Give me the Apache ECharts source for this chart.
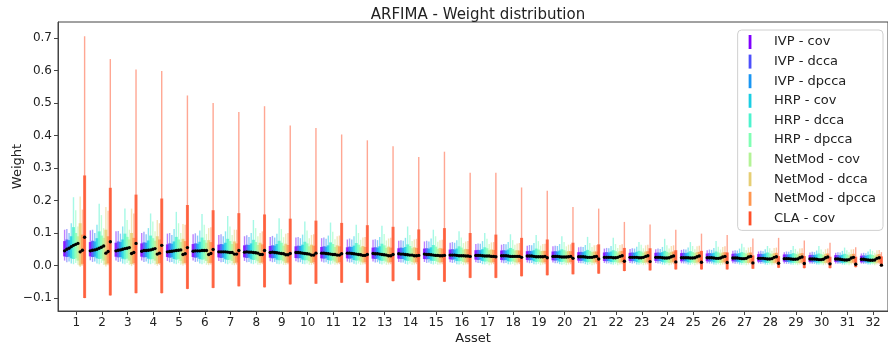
<!DOCTYPE html>
<html>
<head>
<meta charset="utf-8">
<script src="https://cdn.jsdelivr.net/npm/echarts@6/dist/echarts.min.js"></script>
<style>html,body{margin:0;padding:0;background:#fff}#c{width:888px;height:347px}</style>
</head>
<body>
<div id="c"></div>
<script>
// ---------------- DATA ----------------
const assets = [1,2,3,4,5,6,7,8,9,10,11,12,13,14,15,16,17,18,19,20,21,22,23,24,25,26,27,28,29,30,31,32];
const methods = ['IVP - cov','IVP - dcca','IVP - dpcca','HRP - cov','HRP - dcca','HRP - dpcca','NetMod - cov','NetMod - dcca','NetMod - dpcca','CLA - cov'];
const yTicks = [-0.1,0.0,0.1,0.2,0.3,0.4,0.5,0.6,0.7];

// IVP - cov
const ivpCovLo  = [0.015,0.016,0.015,0.015,0.014,0.015,0.014,0.014,0.013,0.013,0.012,0.012,0.012,0.011,0.011,0.010,0.010,0.009,0.009,0.009,0.008,0.008,0.008,0.008,0.007,0.007,0.007,0.007,0.006,0.006,0.006,0.006];
const ivpCovQ1  = [0.028,0.028,0.027,0.027,0.026,0.026,0.025,0.025,0.024,0.023,0.022,0.022,0.021,0.021,0.020,0.019,0.018,0.017,0.017,0.016,0.015,0.014,0.014,0.014,0.013,0.013,0.013,0.012,0.012,0.011,0.011,0.010];
const ivpCovMed = [0.045,0.045,0.045,0.044,0.042,0.044,0.042,0.041,0.040,0.040,0.038,0.038,0.037,0.036,0.035,0.032,0.031,0.030,0.029,0.028,0.027,0.025,0.025,0.025,0.024,0.024,0.023,0.022,0.021,0.020,0.020,0.019];
const ivpCovQ3  = [0.075,0.072,0.070,0.068,0.065,0.066,0.064,0.062,0.060,0.059,0.057,0.056,0.055,0.053,0.052,0.049,0.047,0.046,0.044,0.043,0.041,0.040,0.039,0.039,0.038,0.037,0.036,0.035,0.034,0.032,0.032,0.030];
const ivpCovHi  = [0.110,0.108,0.105,0.100,0.098,0.096,0.094,0.090,0.088,0.086,0.084,0.080,0.079,0.076,0.074,0.070,0.066,0.064,0.061,0.059,0.056,0.052,0.051,0.050,0.048,0.047,0.045,0.043,0.041,0.040,0.039,0.037];
// IVP - dcca
const ivpDccaLo  = [0.010,0.011,0.011,0.011,0.010,0.011,0.010,0.010,0.010,0.010,0.009,0.009,0.009,0.009,0.008,0.008,0.008,0.007,0.007,0.007,0.007,0.006,0.006,0.006,0.006,0.006,0.005,0.005,0.005,0.005,0.005,0.005];
const ivpDccaQ1  = [0.026,0.026,0.025,0.025,0.024,0.024,0.023,0.023,0.022,0.022,0.021,0.021,0.020,0.020,0.019,0.018,0.017,0.016,0.016,0.015,0.014,0.013,0.013,0.013,0.013,0.012,0.012,0.011,0.011,0.010,0.010,0.010];
const ivpDccaMed = [0.050,0.047,0.047,0.046,0.043,0.045,0.042,0.042,0.041,0.040,0.038,0.038,0.036,0.035,0.034,0.032,0.031,0.030,0.029,0.028,0.027,0.025,0.025,0.025,0.024,0.024,0.023,0.022,0.021,0.020,0.020,0.019];
const ivpDccaQ3  = [0.080,0.076,0.074,0.071,0.068,0.068,0.066,0.064,0.062,0.061,0.059,0.058,0.056,0.055,0.053,0.050,0.048,0.047,0.045,0.044,0.042,0.041,0.040,0.040,0.039,0.038,0.037,0.036,0.034,0.033,0.032,0.031];
const ivpDccaHi  = [0.112,0.110,0.106,0.104,0.100,0.099,0.096,0.093,0.091,0.088,0.086,0.083,0.081,0.078,0.076,0.072,0.068,0.066,0.063,0.061,0.058,0.054,0.053,0.052,0.050,0.049,0.047,0.045,0.043,0.042,0.041,0.039];
// IVP - dpcca
const ivpDpccaLo  = [0.012,0.012,0.012,0.012,0.011,0.012,0.011,0.011,0.011,0.010,0.010,0.010,0.010,0.009,0.009,0.009,0.008,0.008,0.008,0.007,0.007,0.007,0.007,0.006,0.006,0.006,0.006,0.006,0.005,0.005,0.005,0.005];
const ivpDpccaQ1  = [0.027,0.027,0.026,0.026,0.025,0.025,0.024,0.024,0.023,0.023,0.022,0.022,0.021,0.020,0.020,0.019,0.018,0.017,0.017,0.016,0.015,0.014,0.014,0.014,0.013,0.013,0.012,0.012,0.011,0.011,0.010,0.010];
const ivpDpccaMed = [0.053,0.048,0.048,0.046,0.044,0.045,0.042,0.041,0.040,0.039,0.037,0.037,0.036,0.035,0.034,0.032,0.031,0.030,0.029,0.028,0.027,0.025,0.025,0.025,0.024,0.024,0.023,0.022,0.021,0.020,0.019,0.018];
const ivpDpccaQ3  = [0.078,0.074,0.072,0.070,0.067,0.067,0.065,0.063,0.061,0.060,0.058,0.057,0.055,0.054,0.052,0.049,0.047,0.046,0.044,0.043,0.041,0.040,0.039,0.039,0.038,0.037,0.036,0.035,0.034,0.032,0.031,0.030];
const ivpDpccaHi  = [0.100,0.100,0.098,0.096,0.094,0.092,0.090,0.088,0.086,0.084,0.082,0.080,0.078,0.076,0.074,0.070,0.067,0.065,0.062,0.060,0.057,0.053,0.052,0.051,0.049,0.048,0.046,0.044,0.042,0.041,0.040,0.038];
// HRP - cov
const hrpCovLo  = [0.006,0.006,0.006,0.006,0.006,0.006,0.006,0.006,0.005,0.005,0.005,0.005,0.005,0.005,0.005,0.004,0.004,0.004,0.004,0.004,0.004,0.004,0.003,0.003,0.003,0.003,0.003,0.003,0.003,0.003,0.003,0.003];
const hrpCovQ1  = [0.022,0.022,0.021,0.021,0.020,0.020,0.019,0.019,0.018,0.018,0.017,0.017,0.016,0.016,0.015,0.014,0.014,0.013,0.013,0.012,0.012,0.011,0.011,0.011,0.010,0.010,0.010,0.009,0.009,0.009,0.008,0.008];
const hrpCovMed = [0.058,0.050,0.050,0.047,0.045,0.045,0.042,0.041,0.039,0.038,0.036,0.036,0.035,0.034,0.033,0.031,0.030,0.029,0.028,0.027,0.026,0.025,0.025,0.024,0.024,0.023,0.022,0.021,0.020,0.019,0.018,0.017];
const hrpCovQ3  = [0.090,0.084,0.080,0.077,0.074,0.073,0.070,0.068,0.066,0.064,0.062,0.061,0.059,0.057,0.056,0.052,0.050,0.049,0.047,0.046,0.044,0.043,0.042,0.041,0.040,0.039,0.038,0.037,0.035,0.034,0.033,0.032];
const hrpCovHi  = [0.130,0.125,0.120,0.115,0.112,0.108,0.105,0.100,0.098,0.095,0.092,0.090,0.088,0.085,0.083,0.078,0.075,0.072,0.069,0.066,0.063,0.060,0.058,0.057,0.055,0.054,0.052,0.050,0.048,0.046,0.045,0.043];
// HRP - dcca
const hrpDccaLo  = [0.004,0.004,0.004,0.004,0.004,0.004,0.004,0.004,0.004,0.004,0.003,0.003,0.003,0.003,0.003,0.003,0.003,0.003,0.003,0.002,0.002,0.002,0.002,0.002,0.002,0.002,0.002,0.002,0.002,0.002,0.002,0.002];
const hrpDccaQ1  = [0.020,0.020,0.019,0.019,0.018,0.018,0.017,0.017,0.016,0.016,0.015,0.015,0.014,0.014,0.014,0.013,0.012,0.012,0.011,0.011,0.010,0.010,0.009,0.009,0.009,0.009,0.008,0.008,0.008,0.007,0.007,0.007];
const hrpDccaMed = [0.062,0.053,0.052,0.048,0.046,0.046,0.041,0.040,0.038,0.037,0.035,0.035,0.034,0.033,0.032,0.030,0.029,0.028,0.027,0.026,0.025,0.024,0.024,0.023,0.023,0.022,0.021,0.020,0.019,0.018,0.017,0.016];
const hrpDccaQ3  = [0.118,0.105,0.098,0.092,0.088,0.086,0.082,0.079,0.076,0.073,0.071,0.069,0.067,0.065,0.063,0.059,0.056,0.054,0.052,0.050,0.048,0.047,0.045,0.045,0.044,0.043,0.041,0.040,0.038,0.037,0.036,0.034];
const hrpDccaHi  = [0.210,0.190,0.175,0.160,0.165,0.158,0.152,0.140,0.145,0.135,0.132,0.125,0.122,0.120,0.110,0.105,0.100,0.096,0.094,0.090,0.088,0.085,0.072,0.082,0.072,0.075,0.067,0.060,0.060,0.060,0.055,0.050];
// HRP - dpcca
const hrpDpccaLo  = [0.008,0.008,0.008,0.007,0.007,0.007,0.007,0.007,0.006,0.006,0.006,0.006,0.006,0.006,0.005,0.005,0.005,0.005,0.005,0.004,0.004,0.004,0.004,0.004,0.004,0.004,0.003,0.003,0.003,0.003,0.003,0.003];
const hrpDpccaQ1  = [0.022,0.021,0.021,0.020,0.020,0.019,0.018,0.018,0.017,0.017,0.016,0.016,0.015,0.015,0.014,0.014,0.013,0.013,0.012,0.012,0.011,0.011,0.010,0.010,0.010,0.009,0.009,0.009,0.008,0.008,0.008,0.007];
const hrpDpccaMed = [0.065,0.056,0.053,0.050,0.047,0.046,0.040,0.039,0.037,0.036,0.034,0.034,0.033,0.032,0.031,0.030,0.029,0.028,0.027,0.026,0.025,0.024,0.024,0.023,0.023,0.022,0.021,0.020,0.019,0.018,0.017,0.016];
const hrpDpccaQ3  = [0.100,0.092,0.088,0.084,0.080,0.078,0.075,0.072,0.070,0.068,0.066,0.064,0.062,0.060,0.058,0.055,0.053,0.051,0.049,0.047,0.045,0.044,0.043,0.042,0.041,0.040,0.039,0.037,0.036,0.035,0.034,0.032];
const hrpDpccaHi  = [0.170,0.155,0.140,0.135,0.130,0.125,0.120,0.115,0.112,0.108,0.104,0.100,0.097,0.094,0.090,0.086,0.082,0.078,0.075,0.072,0.069,0.066,0.064,0.062,0.060,0.058,0.056,0.053,0.051,0.049,0.047,0.045];
// NetMod - cov
const netCovLo  = [0.002,0.002,0.002,0.002,0.002,0.002,0.002,0.002,0.002,0.002,0.002,0.002,0.002,0.002,0.002,0.001,0.001,0.001,0.001,0.001,0.001,0.001,0.001,0.001,0.001,0.001,0.001,0.001,0.001,0.001,0.001,0.001];
const netCovQ1  = [0.015,0.015,0.015,0.015,0.014,0.014,0.014,0.013,0.013,0.013,0.012,0.012,0.012,0.011,0.011,0.011,0.010,0.010,0.010,0.009,0.009,0.009,0.008,0.008,0.008,0.008,0.008,0.007,0.007,0.007,0.007,0.006];
const netCovMed = [0.068,0.060,0.055,0.052,0.048,0.046,0.040,0.038,0.036,0.035,0.034,0.033,0.032,0.032,0.031,0.030,0.029,0.028,0.027,0.026,0.025,0.025,0.025,0.024,0.024,0.023,0.022,0.021,0.020,0.019,0.018,0.017];
const netCovQ3  = [0.090,0.085,0.080,0.076,0.072,0.070,0.066,0.063,0.061,0.059,0.057,0.056,0.054,0.053,0.051,0.049,0.047,0.046,0.044,0.043,0.041,0.040,0.039,0.039,0.038,0.037,0.036,0.035,0.034,0.032,0.031,0.030];
const netCovHi  = [0.120,0.115,0.110,0.105,0.100,0.097,0.094,0.090,0.087,0.084,0.081,0.079,0.077,0.075,0.073,0.069,0.066,0.064,0.061,0.059,0.057,0.054,0.053,0.052,0.050,0.049,0.047,0.045,0.043,0.042,0.041,0.039];
// NetMod - dcca
const netDccaLo  = [-0.005,-0.003,-0.002,-0.001,0.000,0.001,0.001,0.002,0.002,0.002,0.003,0.003,0.003,0.003,0.003,0.003,0.003,0.003,0.003,0.003,0.003,0.003,0.003,0.003,0.003,0.003,0.003,0.003,0.003,0.003,0.003,0.003];
const netDccaQ1  = [0.000,0.003,0.004,0.005,0.006,0.007,0.007,0.008,0.008,0.008,0.008,0.009,0.009,0.009,0.009,0.009,0.009,0.009,0.009,0.009,0.009,0.009,0.009,0.009,0.009,0.009,0.008,0.008,0.008,0.008,0.008,0.008];
const netDccaMed = [0.042,0.038,0.037,0.035,0.034,0.034,0.035,0.034,0.033,0.032,0.032,0.031,0.030,0.030,0.030,0.029,0.028,0.028,0.027,0.027,0.027,0.028,0.028,0.027,0.027,0.026,0.026,0.025,0.024,0.024,0.023,0.022];
const netDccaQ3  = [0.130,0.110,0.100,0.090,0.082,0.078,0.074,0.070,0.067,0.064,0.062,0.060,0.058,0.056,0.054,0.051,0.049,0.047,0.045,0.044,0.043,0.044,0.043,0.042,0.041,0.040,0.039,0.038,0.037,0.036,0.035,0.034];
const netDccaHi  = [0.212,0.180,0.175,0.140,0.128,0.115,0.110,0.100,0.098,0.094,0.090,0.086,0.083,0.080,0.078,0.074,0.071,0.068,0.066,0.064,0.062,0.063,0.062,0.060,0.059,0.057,0.055,0.054,0.052,0.050,0.049,0.047];
// NetMod - dpcca
const netDpccaLo  = [0.000,0.001,0.002,0.002,0.003,0.003,0.003,0.004,0.004,0.004,0.004,0.004,0.004,0.004,0.004,0.004,0.004,0.004,0.004,0.004,0.004,0.004,0.004,0.004,0.004,0.004,0.004,0.004,0.004,0.004,0.004,0.004];
const netDpccaQ1  = [0.005,0.006,0.007,0.007,0.008,0.008,0.009,0.009,0.009,0.010,0.010,0.010,0.010,0.010,0.010,0.010,0.010,0.010,0.010,0.010,0.010,0.010,0.010,0.010,0.010,0.010,0.009,0.009,0.009,0.009,0.009,0.009];
const netDpccaMed = [0.047,0.043,0.040,0.038,0.036,0.037,0.035,0.034,0.033,0.032,0.032,0.031,0.030,0.030,0.030,0.029,0.028,0.028,0.028,0.028,0.028,0.030,0.030,0.029,0.029,0.028,0.028,0.027,0.026,0.026,0.025,0.024];
const netDpccaQ3  = [0.095,0.090,0.085,0.080,0.075,0.072,0.068,0.065,0.063,0.061,0.059,0.057,0.055,0.054,0.052,0.050,0.048,0.046,0.045,0.044,0.043,0.045,0.044,0.043,0.042,0.041,0.040,0.039,0.038,0.037,0.036,0.035];
const netDpccaHi  = [0.172,0.168,0.160,0.130,0.125,0.118,0.110,0.105,0.100,0.096,0.092,0.088,0.085,0.082,0.079,0.075,0.072,0.069,0.067,0.065,0.063,0.065,0.064,0.062,0.061,0.059,0.057,0.055,0.053,0.052,0.050,0.048];
// CLA - cov
const claCovLo  = [-0.101,-0.093,-0.086,-0.086,-0.073,-0.070,-0.065,-0.068,-0.059,-0.057,-0.054,-0.054,-0.049,-0.046,-0.051,-0.039,-0.039,-0.034,-0.031,-0.028,-0.026,-0.018,-0.016,-0.013,-0.013,-0.013,-0.011,-0.008,-0.009,-0.009,-0.006,-0.003];
const claCovQ1  = [-0.100,-0.092,-0.085,-0.085,-0.072,-0.069,-0.064,-0.067,-0.058,-0.056,-0.053,-0.053,-0.048,-0.045,-0.050,-0.038,-0.038,-0.033,-0.030,-0.027,-0.025,-0.017,-0.015,-0.012,-0.012,-0.012,-0.010,-0.007,-0.008,-0.008,-0.005,-0.002];
const claCovMed = [0.087,0.073,0.068,0.062,0.055,0.049,0.046,0.046,0.037,0.038,0.036,0.034,0.034,0.031,0.031,0.028,0.027,0.025,0.024,0.022,0.020,0.013,0.012,0.011,0.010,0.009,0.008,0.007,0.006,0.005,0.004,0.001];
const claCovQ3  = [0.277,0.239,0.218,0.206,0.186,0.170,0.161,0.157,0.144,0.138,0.131,0.124,0.119,0.111,0.115,0.100,0.095,0.085,0.080,0.070,0.065,0.054,0.053,0.047,0.045,0.040,0.031,0.029,0.029,0.027,0.027,0.028];
const claCovHi  = [0.705,0.635,0.603,0.598,0.523,0.500,0.472,0.490,0.431,0.423,0.403,0.385,0.367,0.334,0.350,0.285,0.285,0.240,0.230,0.180,0.175,0.134,0.126,0.110,0.098,0.094,0.083,0.085,0.077,0.070,0.056,0.041];

// ---------------- BUILD ----------------
const stats = [
  [ivpCovLo, ivpCovQ1, ivpCovMed, ivpCovQ3, ivpCovHi],
  [ivpDccaLo, ivpDccaQ1, ivpDccaMed, ivpDccaQ3, ivpDccaHi],
  [ivpDpccaLo, ivpDpccaQ1, ivpDpccaMed, ivpDpccaQ3, ivpDpccaHi],
  [hrpCovLo, hrpCovQ1, hrpCovMed, hrpCovQ3, hrpCovHi],
  [hrpDccaLo, hrpDccaQ1, hrpDccaMed, hrpDccaQ3, hrpDccaHi],
  [hrpDpccaLo, hrpDpccaQ1, hrpDpccaMed, hrpDpccaQ3, hrpDpccaHi],
  [netCovLo, netCovQ1, netCovMed, netCovQ3, netCovHi],
  [netDccaLo, netDccaQ1, netDccaMed, netDccaQ3, netDccaHi],
  [netDpccaLo, netDpccaQ1, netDpccaMed, netDpccaQ3, netDpccaHi],
  [claCovLo, claCovQ1, claCovMed, claCovQ3, claCovHi]
];
const colors = ['#8000ff','#4d4ffc','#1996f3','#1acee3','#4df3ce','#80ffb4','#b3f396','#e6ce74','#ff964f','#ff4f28'];
const OFF0 = -0.455, OFFSTEP = 0.0865;
const FONT = 'DejaVu Sans';

function renderBox(offset) {
  return function (params, api) {
    const x = api.value(0) + offset;
    const pLo = api.coord([x, api.value(1)]);
    const pQ1 = api.coord([x, api.value(2)]);
    const pQ3 = api.coord([x, api.value(4)]);
    const pHi = api.coord([x, api.value(5)]);
    const color = api.visual('color');
    return {
      type: 'group',
      children: [
        { type: 'line', shape: { x1: pLo[0], y1: pLo[1], x2: pHi[0], y2: pHi[1] },
          style: { stroke: color, lineWidth: 1.4, opacity: 0.5 } },
        { type: 'line', shape: { x1: pQ1[0], y1: pQ1[1], x2: pQ3[0], y2: pQ3[1] },
          style: { stroke: color, lineWidth: 3, opacity: 0.8 } }
      ]
    };
  };
}

const series = methods.map((name, i) => ({
  name: name,
  type: 'custom',
  renderItem: renderBox(OFF0 + OFFSTEP * i),
  itemStyle: { color: colors[i] },
  encode: { x: 0, y: [1, 2, 3, 4, 5] },
  data: assets.map((a, j) => [a, stats[i][0][j], stats[i][1][j], stats[i][2][j], stats[i][3][j], stats[i][4][j]]),
  z: 2
}));

const medData = [];
methods.forEach((name, i) => assets.forEach((a, j) => medData.push([a, stats[i][2][j], i])));
series.push({
  name: 'median',
  type: 'custom',
  z: 5,
  encode: { x: 0, y: 1 },
  data: medData,
  renderItem: function (params, api) {
    const p = api.coord([api.value(0) + OFF0 + OFFSTEP * api.value(2), api.value(1)]);
    return { type: 'circle', shape: { cx: p[0], cy: p[1], r: 1.7 }, style: { fill: '#000' } };
  }
});

const fmt = v => (Math.abs(v) < 1e-9 ? '0.0' : v.toFixed(1).replace('-', '\u2212'));

const chart = echarts.init(document.getElementById('c'), null, { renderer: 'canvas' });
chart.setOption({
  animation: false,
  backgroundColor: '#fff',
  title: {
    text: 'ARFIMA - Weight distribution',
    left: 473, top: 3, textAlign: 'center',
    textStyle: { fontFamily: FONT, fontSize: 15, fontWeight: 'normal', color: '#222' }
  },
  grid: { left: 58, right: 0, top: 22, bottom: 36, containLabel: false, outerBoundsMode: 'none',
          show: true, borderColor: '#444', borderWidth: 1, backgroundColor: 'transparent' },
  legend: {
    data: methods,
    orient: 'vertical',
    right: 5, top: 30,
    itemWidth: 14, itemHeight: 14, itemGap: 5.6,
    icon: 'path://M0,0h2v10h-2z',
    padding: [5, 7, 5, 11],
    backgroundColor: 'rgba(255,255,255,0.85)',
    borderColor: '#d0d0d0', borderWidth: 1, borderRadius: 4,
    formatter: n => '{t|' + n + '}',
    textStyle: { fontFamily: FONT, fontSize: 13, color: '#222',
      rich: { t: { fontFamily: FONT, fontSize: 13, color: '#222', padding: [0, 0, 0, 12] } } }
  },
  xAxis: {
    type: 'value', min: 0.288, max: 32.58,
    name: 'Asset', nameLocation: 'middle', nameGap: 21, nameMoveOverlap: false,
    nameTextStyle: { fontFamily: FONT, fontSize: 13, color: '#222' },
    axisLine: { show: true, onZero: false, lineStyle: { color: '#444', width: 1 } },
    axisTick: { show: true, length: 4, customValues: assets, lineStyle: { color: '#444' } },
    axisLabel: { customValues: assets, fontFamily: FONT, fontSize: 12, color: '#222', margin: 6 },
    splitLine: { show: false }
  },
  yAxis: {
    type: 'value', min: -0.14, max: 0.749,
    name: 'Weight', nameLocation: 'middle', nameGap: 34, nameMoveOverlap: false,
    nameTextStyle: { fontFamily: FONT, fontSize: 13, color: '#222' },
    axisLine: { show: true, lineStyle: { color: '#444', width: 1 } },
    axisTick: { show: true, length: 4, customValues: yTicks, lineStyle: { color: '#444' } },
    axisLabel: { customValues: yTicks, formatter: fmt, fontFamily: FONT, fontSize: 12, color: '#222', margin: 6 },
    splitLine: { show: false }
  },
  series: series
});
</script>
</body>
</html>
